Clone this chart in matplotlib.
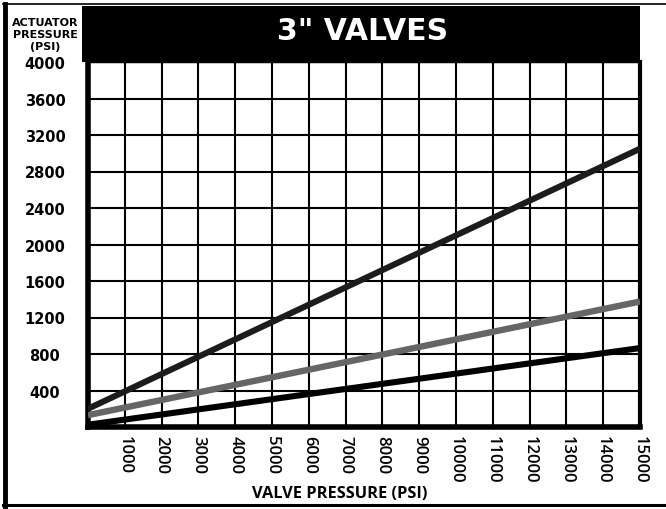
import matplotlib.pyplot as plt
from matplotlib.patches import Rectangle
from matplotlib.lines import Line2D

# valve pressure (psi) at the two ends of each line
valve_psi = [0, 15000]

# actuator pressure (psi)
top_line = [200, 3050]
mid_line = [130, 1375]
low_line = [25, 865]

x_ticks = list(range(1000, 16000, 1000))
y_ticks = list(range(400, 4400, 400))

W, H = 666, 510
fig = plt.figure(figsize=(W / 100, H / 100), dpi=100)
fig.patch.set_facecolor('white')

def fx(px):
    return px / W

def fy(py):
    return 1 - py / H

# plot area in pixels
left, right, top, bottom = 88, 640, 63, 428
ax = fig.add_axes([fx(left), fy(bottom), fx(right - left), (bottom - top) / H])

ax.plot(valve_psi, top_line, color='#1c1c1c', linewidth=4.4, solid_capstyle='butt', zorder=3)
ax.plot(valve_psi, mid_line, color='#666666', linewidth=4.6, solid_capstyle='butt', zorder=3)
ax.plot(valve_psi, low_line, color='black', linewidth=4.4, solid_capstyle='butt', zorder=3)

ax.set_xlim(0, 15000)
ax.set_ylim(0, 4000)
ax.set_xticks(x_ticks)
ax.set_yticks(y_ticks)
ax.set_xticklabels([str(v) for v in x_ticks], rotation=-90, fontsize=12,
                   family='Open Sans', fontweight='semibold')
ax.set_yticklabels([str(v) for v in y_ticks], fontsize=10.5,
                   family='DejaVu Sans', fontweight='bold', ha='center')
ax.tick_params(axis='both', length=0)
ax.tick_params(axis='x', pad=6)
ax.tick_params(axis='y', pad=31)

ax.grid(True, color='black', linewidth=1.5)
ax.set_axisbelow(True)

for side, lw in [('left', 4), ('bottom', 4), ('right', 3), ('top', 1)]:
    ax.spines[side].set_linewidth(lw)
    ax.spines[side].set_color('black')

# black title bar
fig.patches.append(Rectangle((fx(82), fy(63)), fx(640 - 82), (63 - 7) / H,
                             transform=fig.transFigure, facecolor='black',
                             edgecolor='none', zorder=0))
fig.text(fx(363), fy(31), '3" VALVES', color='white', fontsize=21.5,
         family='DejaVu Sans', fontweight='bold', ha='center', va='center')

# outer frame
fig.add_artist(Line2D([fx(5), fx(5)], [fy(5), fy(507)], color='black', linewidth=3.5))
fig.add_artist(Line2D([fx(3), 1], [fy(5), fy(5)], color='black', linewidth=1.2))
fig.add_artist(Line2D([fx(3), 1], [fy(506), fy(506)], color='black', linewidth=2.2))

fig.text(fx(45), fy(35), 'ACTUATOR\nPRESSURE\n(PSI)', fontsize=8,
         family='DejaVu Sans', fontweight='bold', ha='center', va='center',
         linespacing=1.25)

fig.text(fx(340), fy(494), 'VALVE PRESSURE (PSI)', fontsize=11.8,
         family='Open Sans', fontweight='bold', ha='center', va='center')

fig.savefig('out.png', dpi=100, facecolor='white')
